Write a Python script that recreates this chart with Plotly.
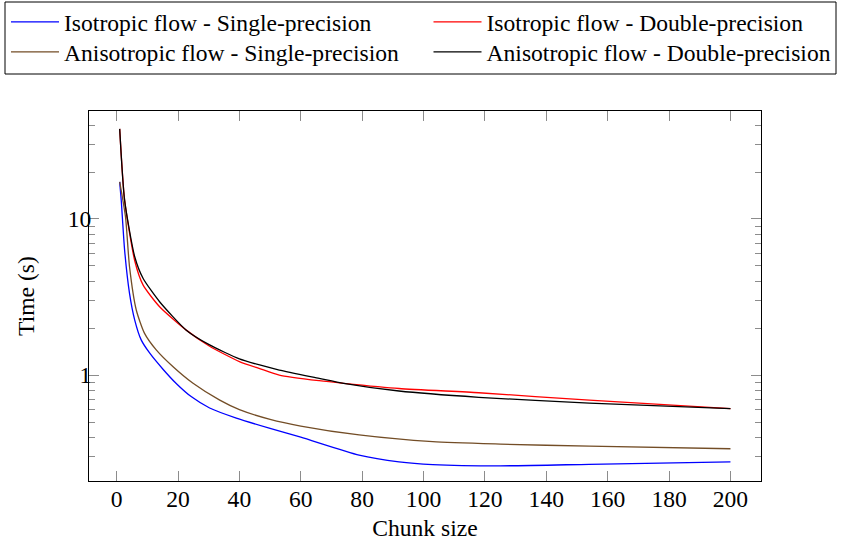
import plotly.graph_objects as go

# ---- data ----
iso_single_x = [1, 1.5, 2.6, 4.2, 5.9, 8, 10.8, 15.1, 19.5, 24.4, 30.3, 39, 50, 60, 79, 92, 103, 125, 154, 200]
iso_single_y = [17.3, 13.2, 6.33, 3.34, 2.25, 1.68, 1.38, 1.09, 0.88, 0.725, 0.615, 0.53, 0.455, 0.40, 0.307, 0.278, 0.267, 0.262, 0.268, 0.278]

aniso_single_x = [1, 2.9, 4.2, 6.4, 9.1, 12.9, 18.4, 24.9, 33.6, 40, 50, 60, 79, 103, 125, 154, 200]
aniso_single_y = [17.3, 10.3, 4.95, 2.61, 1.85, 1.45, 1.13, 0.885, 0.69, 0.60, 0.52, 0.471, 0.413, 0.374, 0.361, 0.35, 0.337]

iso_double_x = [1, 2.6, 5.9, 8.6, 14, 22.7, 30.3, 40, 46.6, 53, 66, 74, 92, 118, 154, 200]
iso_double_y = [37.8, 13.2, 5.4, 3.78, 2.74, 1.94, 1.53, 1.22, 1.10, 1.0, 0.92, 0.885, 0.82, 0.77, 0.69, 0.61]

aniso_double_x = [1, 2.6, 5.9, 8.6, 14, 22.7, 30.3, 40, 46.6, 53, 66, 74, 92, 118, 154, 200]
aniso_double_y = [37.8, 13.2, 5.73, 4.17, 2.95, 1.94, 1.56, 1.27, 1.16, 1.077, 0.953, 0.885, 0.79, 0.72, 0.66, 0.61]

series_names = [
    "Isotropic flow - Single-precision",
    "Isotropic flow - Double-precision",
    "Anisotropic flow - Single-precision",
    "Anisotropic flow - Double-precision",
]
series_colors = ["#0000ff", "#ff0000", "#734d26", "#000000"]

x_ticks = [0, 20, 40, 60, 80, 100, 120, 140, 160, 180, 200]
y_ticks = [1, 10]
y_tick_text = ["1", "10"]

FONT = "Liberation Serif, Times New Roman, DejaVu Serif, serif"
FS = 23.6

W, H = 841, 541
ML, MR, MT, MB = 89, 80, 111, 60
PW, PH = W - ML - MR, H - MT - MB


def px_x(p):
    return (p - ML) / PW


def px_y(p):
    return (H - MB - p) / PH


# legend slot positions (pixel) for each series: (left x, row centre y)
legend_slots = [(6, 22), (428.5, 22), (6, 52), (428.5, 52)]
legend_ids = ["legend", "legend2", "legend3", "legend4"]

fig = go.Figure()
data = [
    (iso_single_x, iso_single_y),
    (iso_double_x, iso_double_y),
    (aniso_single_x, aniso_single_y),
    (aniso_double_x, aniso_double_y),
]
for (xs, ys), name, col, lg in zip(data, series_names, series_colors, legend_ids):
    fig.add_trace(go.Scatter(
        x=xs, y=ys, name=name, mode="lines", legend=lg,
        line=dict(color=col, width=1.3, shape="spline", smoothing=0.6),
    ))

leg_layout = {}
for lg, (lx, ly) in zip(legend_ids, legend_slots):
    leg_layout[lg] = dict(
        x=px_x(lx), xanchor="left",
        y=px_y(ly), yanchor="middle",
        orientation="v",
        borderwidth=0,
        bgcolor="rgba(0,0,0,0)",
        itemwidth=48,
        font=dict(family=FONT, size=FS),
    )

tick_col = "#8c8c8c"
fig.update_layout(
    width=W, height=H,
    margin=dict(l=ML, r=MR, t=MT, b=MB, autoexpand=False),
    paper_bgcolor="white", plot_bgcolor="white",
    font=dict(family=FONT, size=FS, color="black"),
    showlegend=True,
    shapes=[dict(
        type="rect", xref="paper", yref="paper",
        x0=px_x(5), x1=px_x(836), y0=px_y(74), y1=px_y(2),
        line=dict(color="black", width=1), fillcolor="rgba(0,0,0,0)", layer="above",
    )],
    xaxis=dict(
        range=[-9.0, 209.95],
        tickvals=x_ticks,
        ticks="inside", ticklen=10, tickwidth=1, tickcolor=tick_col,
        showline=True, linecolor="black", linewidth=1, mirror="allticks",
        showgrid=False, zeroline=False, automargin=False,
        tickfont=dict(family=FONT, size=FS),
        ticklabelstandoff=-3,
        title=dict(text="Chunk size", standoff=13, font=dict(family=FONT, size=FS)),
    ),
    yaxis=dict(
        type="log",
        range=[-0.679, 1.692],
        tickvals=y_ticks, ticktext=y_tick_text,
        ticks="inside", ticklen=10, tickwidth=1, tickcolor=tick_col,
        minor=dict(ticks="inside", ticklen=6, tickwidth=1, tickcolor=tick_col, dtick="D1", showgrid=False),
        showline=True, linecolor="black", linewidth=1, mirror="allticks",
        showgrid=False, zeroline=False, automargin=False,
        tickfont=dict(family=FONT, size=FS),
        ticklabelstandoff=-8,
        title=dict(text="Time (s)", standoff=26, font=dict(family=FONT, size=FS)),
    ),
    **leg_layout,
)

fig.write_html("out.html")
